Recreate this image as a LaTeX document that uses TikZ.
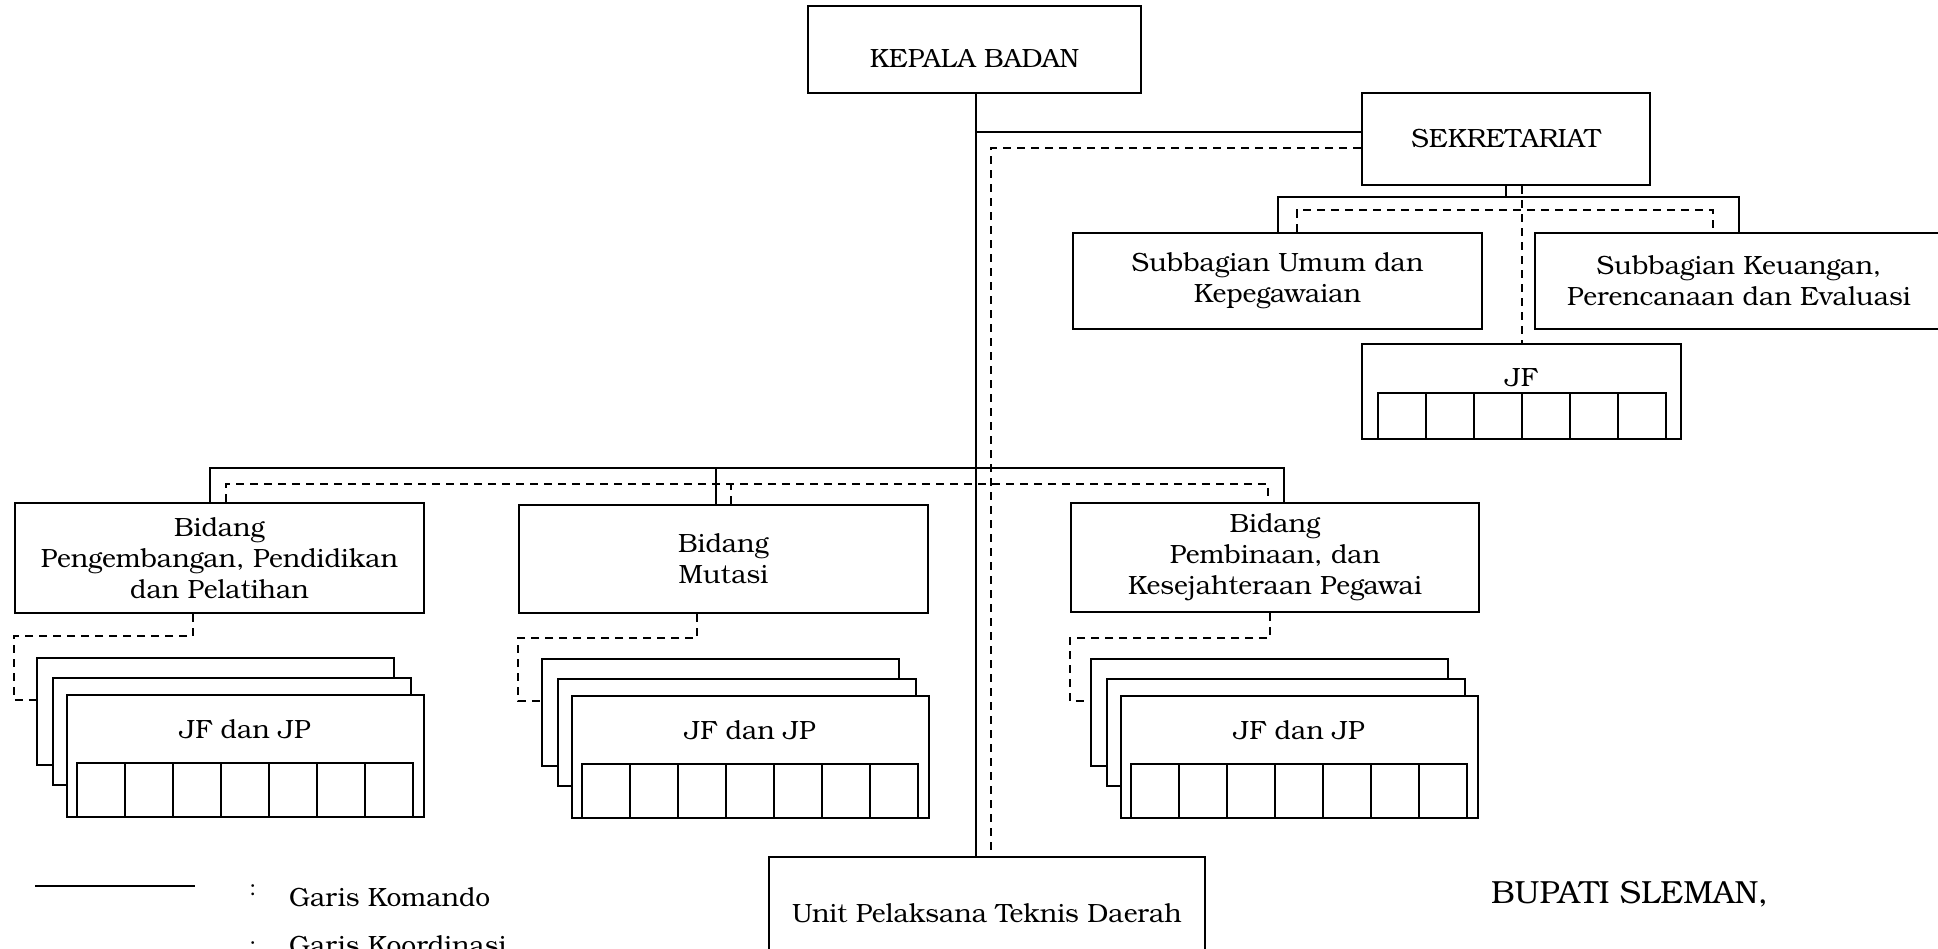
\documentclass[tikz,border=0pt]{standalone}
\usepackage{fontspec}
\IfFontExistsTF{texgyrebonum-regular.otf}{\setmainfont{texgyrebonum-regular.otf}}{\setmainfont{Liberation Serif}}
\newcommand\bk{\fontsize{13.2}{15.5}\selectfont}
\newcommand\jstack[3]{%
  \node[box, minimum width=178.5pt, minimum height=53.5pt] (#1-a) at (#2+148.5, #3+16.5) {};
  \node[box, minimum width=179pt, minimum height=53.5pt] (#1-b) at (#2+165, #3+36.5) {};
  \node[box, minimum width=178.5pt, minimum height=61pt] (#1-c) at (#2+178.5, #3+61) {};
  \node[txt] (#1-t) at (#2+178, #3+34) {JF dan JP};
  \draw[line width=1.1pt] (#2+10,#3+68) rectangle (#2+346,#3+122);
  \foreach \k in {1,...,6} \draw[line width=1.1pt] (#2+10+48*\k,#3+68) -- (#2+10+48*\k,#3+122);
  \coordinate (#1-in) at (#2-30,#3+5);
}
\begin{document}
\begin{tikzpicture}[x=0.5pt,y=-0.5pt, line width=1pt,
  box/.style={draw, line width=1.1pt, fill=white, inner sep=0pt, align=center, font=\bk},
  txt/.style={inner sep=0pt, align=center, font=\bk},
  dsh/.style={dash pattern=on 4pt off 3pt}]
\useasboundingbox (0,0) rectangle (1938,948);

% top level
\node[box, minimum width=166.5pt, minimum height=43.5pt] (kepala) at (974.5,49.5) {};
\node[txt] (kepalatxt) at (974.5,59) {KEPALA BADAN};
\node[box, minimum width=144pt, minimum height=46pt] (sek) at (1506,139) {SEKRETARIAT};
\node[box, minimum width=204.5pt, minimum height=48pt] (subumum) at (1277.5,281) {Subbagian Umum dan\\Kepegawaian};
\node[box, minimum width=204pt, minimum height=48pt] (subkeu) at (1739,281) {Subbagian Keuangan,\\Perencanaan dan Evaluasi};
\node[box, minimum width=159.5pt, minimum height=47.5pt] (jfs) at (1521.5,391.5) {};
\node[txt] (jfstxt) at (1521.5,378) {JF};
\draw[line width=1.1pt] (1378,393) rectangle (1666,439);
\foreach \k in {1,...,5} \draw[line width=1.1pt] (1378+48*\k,393) -- (1378+48*\k,439);

% bidang
\node[box, minimum width=204.5pt, minimum height=55pt] (b1) at (219.5,558) {Bidang\\Pengembangan, Pendidikan\\dan Pelatihan};
\node[box, minimum width=204.5pt, minimum height=54pt] (b2) at (723.5,559) {Bidang\\Mutasi};
\node[box, minimum width=204pt, minimum height=54.5pt] (b3) at (1275,557.5) {Bidang\\Pembinaan, dan\\Kesejahteraan Pegawai};

\node[box, minimum width=218pt, minimum height=56pt] (uptd) at (987,913) {Unit Pelaksana Teknis Daerah};

% stacks
\jstack{g1}{67}{695}
\jstack{g2}{572}{696}
\jstack{g3}{1121}{696}

% connectors top
\coordinate (mx) at (976,0);
\coordinate (dx) at (991,0);
\coordinate (ys) at (0,132);
\coordinate (yd) at (0,148);
\draw (kepala.south -| mx) -- (uptd.north -| mx);
\draw (mx |- ys) -- (sek.west |- ys);
\draw[dsh] (sek.west |- yd) -| (uptd.north -| dx);

% secretariat children
\coordinate (sj) at (1506,197);
\coordinate (sd) at (1506,210);
\draw (sek.south) -- (sj);
\draw (subumum.north) |- (sj) -| (subkeu.north);
\draw[dsh] ([xshift=9.75pt]subumum.north) |- (sd) -| ([xshift=-13pt]subkeu.north);
\draw[dsh] (sek.south -| jfs.north) -- (jfs.north);

% bidang connectors
\coordinate (hb) at (976,468);
\coordinate (hd) at (976,484);
\draw ([xshift=-4.75pt]b1.north) |- (hb) -| ([xshift=4.5pt]b3.north);
\draw ([xshift=-3.75pt]b2.north) -- ([xshift=-3.75pt]b2.north |- hb);
\draw[dsh] ([xshift=3.25pt]b1.north) |- (hd) -| ([xshift=-3.5pt]b3.north);
\draw[dsh] ([xshift=3.75pt]b2.north) -- ([xshift=3.75pt]b2.north |- hd);

% bidang to stacks
\draw[dsh] ([xshift=-13.25pt]b1.south) -- ++(0,22) -| (b1.west |- g1-in) -- (g1-in);
\draw[dsh] ([xshift=-13.25pt]b2.south) -- ++(0,24) -| (b2.west |- g2-in) -- (g2-in);
\draw[dsh] ([xshift=-2.5pt]b3.south) -- ++(0,25) -| (b3.west |- g3-in) -- (g3-in);

% legend
\coordinate (l1a) at (35,886);
\coordinate (l1b) at (195,886);
\draw (l1a) -- (l1b);
\node[txt, font=\fontsize{11}{12}\selectfont, anchor=base] (c1) at (253,895) {:};
\node[txt, anchor=base west] (k1) at (288,906) {Garis Komando};
\node[txt, font=\fontsize{11}{12}\selectfont, anchor=base] (c2) at (253,952) {:};
\node[txt, anchor=base west] (k2) at (288,954) {Garis Koordinasi};

\node[txt, font=\fontsize{16}{18}\selectfont, anchor=base] (bupati) at (1629.5,903) {BUPATI SLEMAN,};
\end{tikzpicture}
\end{document}
